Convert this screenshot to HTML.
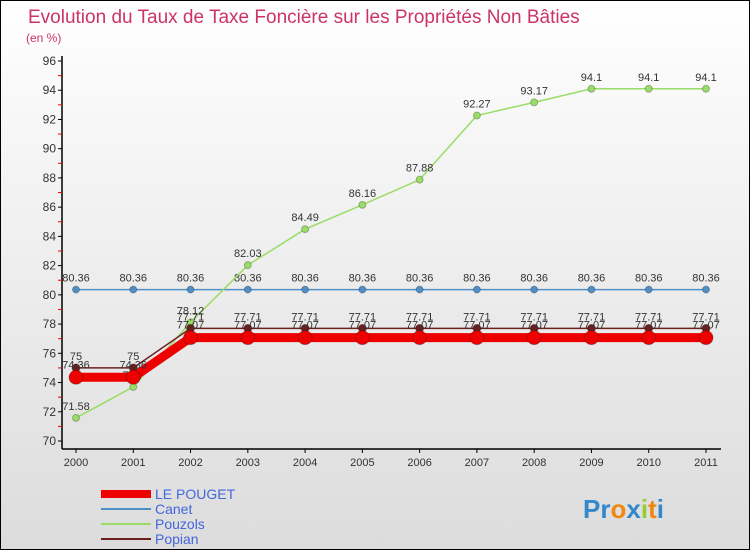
<!DOCTYPE html>
<html><head><meta charset="utf-8"><style>
body{margin:0;width:750px;height:550px;overflow:hidden;font-family:"Liberation Sans",sans-serif}
#frame{position:absolute;left:0;top:0;width:748px;height:548px;border:1px solid #000;background:linear-gradient(#ffffff 0%,#f4f4f4 30%,#dcdcdc 100%)}
</style></head><body>
<div id="frame">
<svg id="chart" width="750" height="550"></svg>
</div>
<script>
const years=["2000","2001","2002","2003","2004","2005","2006","2007","2008","2009","2010","2011"];
const lePouget=[74.36,74.36,77.07,77.07,77.07,77.07,77.07,77.07,77.07,77.07,77.07,77.07];
const canet=[80.36,80.36,80.36,80.36,80.36,80.36,80.36,80.36,80.36,80.36,80.36,80.36];
const pouzols=[71.58,73.7,78.12,82.03,84.49,86.16,87.88,92.27,93.17,94.1,94.1,94.1];
const popian=[75,75,77.71,77.71,77.71,77.71,77.71,77.71,77.71,77.71,77.71,77.71];
const yTicks=[70,72,74,76,78,80,82,84,86,88,90,92,94,96];
const NS="http://www.w3.org/2000/svg";
const svg=document.getElementById('chart');
const X=i=>75+i*(630/11);
const Y=v=>440-(v-70)*(380/26);
function el(t,a,p){const e=document.createElementNS(NS,t);for(const k in a)e.setAttribute(k,a[k]);(p||svg).appendChild(e);return e;}
// title
let t=el('text',{x:27,y:22,'font-size':19,fill:'#cc3366'});t.textContent='Evolution du Taux de Taxe Foncière sur les Propriétés Non Bâties';

t=el('text',{x:25,y:41,'font-size':12,fill:'#cc3366'});t.textContent='(en %)';

// axes
let ax=el('line',{x1:61,y1:55,x2:61,y2:448,stroke:'#000','stroke-width':1.5});

ax=el('line',{x1:61,y1:448,x2:720,y2:448,stroke:'#000','stroke-width':1.5});

yTicks.forEach(v=>{
 el('line',{x1:57,y1:Y(v),x2:61,y2:Y(v),stroke:'#000'});
 if(v<96) el('line',{x1:57,y1:Y(v+1),x2:61,y2:Y(v+1),stroke:'#e00'});
 const l=el('text',{x:55,y:Y(v)+4,'font-size':12,fill:'#333','text-anchor':'end'});l.textContent=v;
 
});
years.forEach((y,i)=>{
 el('line',{x1:X(i),y1:448,x2:X(i),y2:452,stroke:'#000'});
 const l=el('text',{x:X(i),y:465,'font-size':11,fill:'#333','text-anchor':'middle'});l.textContent=y;
 
});
function series(data,color,w,r,name,lblDy){
 const g=el('g',{});
 
 el('polyline',{points:data.map((v,i)=>X(i)+','+Y(v)).join(' '),fill:'none',stroke:color,'stroke-width':w},g);
 data.forEach((v,i)=>{
  const c=el('circle',{cx:X(i),cy:Y(v),r:r,fill:color,stroke:'rgba(0,0,0,0.25)','stroke-width':1},g);
  
  const l=el('text',{x:X(i),y:Y(v)+lblDy,'font-size':11,fill:'#333','text-anchor':'middle'},g);l.textContent=v;
  
 });
}
series(canet,'#4f8fc6',1.5,3.5,'canet',-8);
series(pouzols,'#99dd66',1.5,3.5,'pouzols',-8);
series(popian,'#6b1f1f',1.5,4,'popian',-8);
series(lePouget,'#ee0000',9,7,'le-pouget',-9);
// legend
const leg=[['LE POUGET','#ee0000',8],['Canet','#4f8fc6',2],['Pouzols','#99dd66',2],['Popian','#6b1f1f',2]];
leg.forEach((d,i)=>{
 const g=el('g',{});
 const y=493+i*15;
 el('line',{x1:100,y1:y,x2:150,y2:y,stroke:d[1],'stroke-width':d[2]},g);
 const l=el('text',{x:154,y:y+5,'font-size':14,fill:'#4466dd'},g);l.textContent=d[0];
});
// logo
const lg=el('text',{x:582,y:517,'font-size':26,'font-weight':'bold',fill:'#3388cc'});
lg.innerHTML='<tspan fill="#3388cc">Pr</tspan><tspan fill="#ee8811">o</tspan><tspan fill="#3388cc">x</tspan><tspan fill="#99cc33">i</tspan><tspan fill="#ee8811">t</tspan><tspan fill="#3388cc">i</tspan>';

</script>
</body></html>
